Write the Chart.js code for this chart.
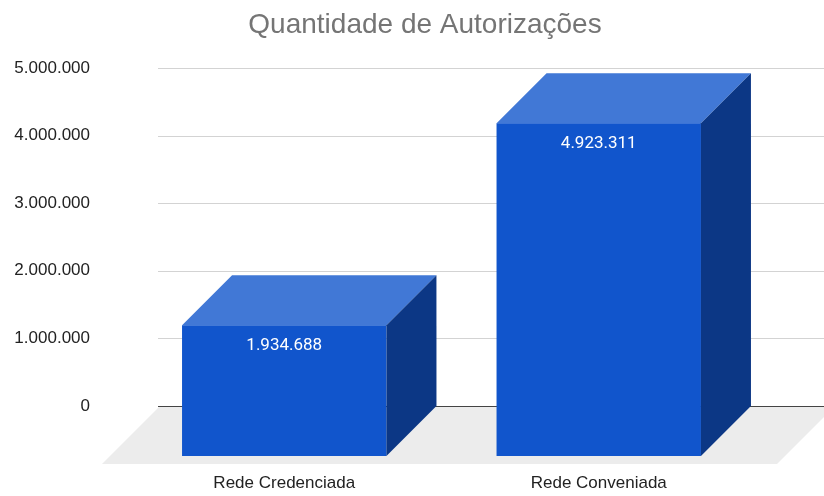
<!DOCTYPE html>
<html lang="pt-BR">
<head>
<meta charset="utf-8">
<title>Quantidade de Autorizações</title>
<script src="https://cdn.jsdelivr.net/npm/chart.js@4.4.1/dist/chart.umd.min.js"></script>
<style>
  html, body { margin: 0; padding: 0; background: #ffffff; }
  #wrap { width: 824px; height: 496px; position: relative; }
</style>
</head>
<body>
<div id="wrap"><canvas id="authChart"></canvas></div>
<script>
// Chart data
const chartTitle = "Quantidade de Autorizações";
const categories = ["Rede Credenciada", "Rede Conveniada"];
const authorizations = [1934688, 4923311];
const yTicks = [0, 1000000, 2000000, 3000000, 4000000, 5000000];

// 3D look
const DEPTH = 50;        // bar depth (front face is shifted left/down by this)
const FLOOR = 58;        // depth of the grey floor
const FRONT_COLOR = "#1155cc";
const TOP_COLOR = "#4178d6";
const SIDE_COLOR = "#0c3785";
const SANS = "'Liberation Sans', Arial, sans-serif";

function formatBR(n) {
  return String(Math.round(n)).replace(/\B(?=(\d{3})+(?!\d))/g, ".");
}

/**
 * Draws floor + gridlines behind the bars, then the boxes on top.
 * Everything is placed from the bar elements / y scale.
 */
const box3d = {
  id: "box3d",
  beforeDatasetsDraw(chart) {
    const { ctx, chartArea, scales } = chart;
    const y = scales.y;
    const zero = y.getPixelForValue(0);
    const gridLeft = chartArea.left - 19;

    ctx.save();
    // floor
    ctx.fillStyle = "#ececec";
    ctx.beginPath();
    ctx.moveTo(chartArea.left - 17, zero);
    ctx.lineTo(chartArea.right + 29, zero);
    ctx.lineTo(chartArea.right + 29 - FLOOR, zero + FLOOR);
    ctx.lineTo(chartArea.left - 17 - FLOOR, zero + FLOOR);
    ctx.closePath();
    ctx.fill();

    // gridlines
    yTicks.forEach(v => {
      const py = Math.round(y.getPixelForValue(v)) + 0.5;
      ctx.strokeStyle = v === 0 ? "#444444" : "#d3d3d3";
      ctx.lineWidth = 1;
      ctx.beginPath();
      ctx.moveTo(gridLeft, py);
      ctx.lineTo(chart.width, py);
      ctx.stroke();
    });
    ctx.restore();
  },
  afterDatasetsDraw(chart) {
    const { ctx } = chart;
    const meta = chart.getDatasetMeta(0);
    ctx.save();
    meta.data.forEach((bar, i) => {
      const { x, y, base, width } = bar.getProps(["x", "y", "base", "width"], true);
      const fx0 = x - width / 2 - DEPTH;
      const fx1 = x + width / 2 - DEPTH;
      const fTop = y + DEPTH;
      const fBot = base + DEPTH;

      // front face
      ctx.fillStyle = FRONT_COLOR;
      ctx.fillRect(fx0, fTop, fx1 - fx0, fBot - fTop);

      // top face
      ctx.fillStyle = TOP_COLOR;
      ctx.beginPath();
      ctx.moveTo(fx0, fTop);
      ctx.lineTo(fx1, fTop);
      ctx.lineTo(fx1 + DEPTH, fTop - DEPTH);
      ctx.lineTo(fx0 + DEPTH, fTop - DEPTH);
      ctx.closePath();
      ctx.fill();

      // right side
      ctx.fillStyle = SIDE_COLOR;
      ctx.beginPath();
      ctx.moveTo(fx1, fTop);
      ctx.lineTo(fx1 + DEPTH, fTop - DEPTH);
      ctx.lineTo(fx1 + DEPTH, base);
      ctx.lineTo(fx1, fBot);
      ctx.closePath();
      ctx.fill();

      // value label
      ctx.fillStyle = "#ffffff";
      ctx.font = "17px Roboto, sans-serif";
      ctx.textAlign = "center";
      ctx.textBaseline = "middle";
      ctx.fillText(formatBR(authorizations[i]), (fx0 + fx1) / 2, fTop + 21);
    });
    ctx.restore();
  },
  afterDraw(chart) {
    // title, centred like the original (slightly right of the canvas middle)
    const { ctx } = chart;
    ctx.save();
    ctx.fillStyle = "#757575";
    ctx.font = "28px " + SANS;
    ctx.textAlign = "center";
    ctx.textBaseline = "alphabetic";
    ctx.fillText(chartTitle, 425, 33);
    ctx.restore();
  }
};

const ctx = document.getElementById("authChart").getContext("2d");
new Chart(ctx, {
  type: "bar",
  data: {
    labels: categories,
    datasets: [{
      label: chartTitle,
      data: authorizations,
      backgroundColor: "rgba(0,0,0,0)",
      borderWidth: 0,
      categoryPercentage: 1,
      barPercentage: 0.65
    }]
  },
  options: {
    responsive: true,
    maintainAspectRatio: false,
    animation: false,
    layout: { padding: { left: 0, right: 18, top: 68, bottom: 0 } },
    plugins: {
      legend: { display: false },
      tooltip: { enabled: false },
      title: { display: false }
    },
    scales: {
      x: {
        grid: { display: false, drawTicks: false },
        border: { display: false },
        ticks: {
          color: "#222222",
          font: { family: SANS, size: 17 },
          padding: 67,
          labelOffset: -DEPTH,
          maxRotation: 0
        },
        afterFit(scale) { scale.height = 90; }
      },
      y: {
        min: 0,
        max: 5000000,
        grid: { display: false, drawTicks: false },
        border: { display: false },
        afterBuildTicks(scale) {
          scale.ticks = yTicks.map(v => ({ value: v }));
        },
        ticks: {
          color: "#222222",
          font: { family: SANS, size: 17 },
          padding: 87,
          callback: v => formatBR(v)
        },
        afterFit(scale) {
          scale.width = 177;
          // big label padding should not push the plot area in
          scale.paddingTop = 10;
          scale.paddingBottom = 10;
        }
      }
    }
  },
  plugins: [box3d]
});
</script>
</body>
</html>
